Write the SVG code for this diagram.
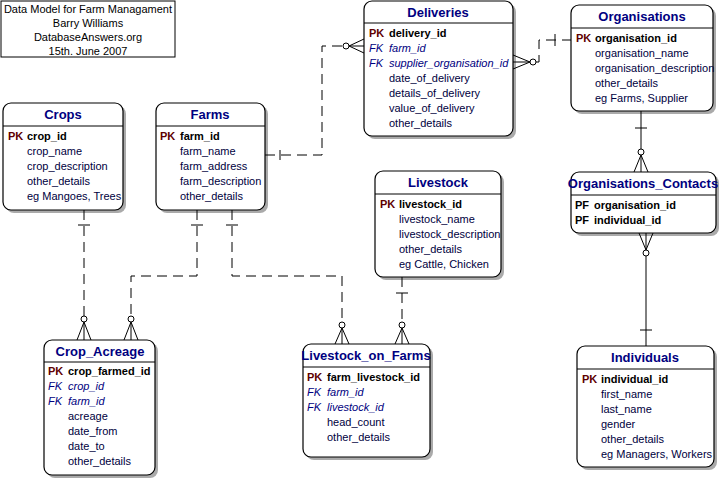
<svg xmlns="http://www.w3.org/2000/svg" width="722" height="482" viewBox="0 0 722 482">
<style>
text{font-family:"Liberation Sans",Arial,sans-serif;font-size:11px;fill:#000040}
.t{font-size:13px;font-weight:bold;fill:#000080;text-anchor:middle}
.k{fill:#600000;font-weight:bold}
.kb{font-weight:bold;fill:#000000}
.fk{fill:#000080;font-style:italic}
.box{fill:#fff;stroke:#000;stroke-width:1.2}
.sh{fill:#aaa}
.c{fill:none;stroke:#000;stroke-width:1}
.d{stroke-dasharray:10,6}
.ti{font-size:11px;fill:#000;text-anchor:middle}
</style>
<rect width="722" height="482" fill="#fff"/>
<g id="title"><rect x="1" y="1" width="174" height="56" fill="#fff" stroke="#000"/>
<text class="ti" x="88" y="13">Data Model for Farm Managament</text><text class="ti" x="88" y="27">Barry Williams</text><text class="ti" x="88" y="41">DatabaseAnswers.org</text><text class="ti" x="88" y="55">15th. June 2007</text></g>

<g id="crops"><rect class="sh" x="6" y="106" width="120" height="107" rx="8"/><rect class="box" x="3" y="103" width="120" height="107" rx="8"/><line class="c" x1="3" y1="126" x2="123" y2="126"/>
<text class="t" x="63" y="119">Crops</text><text class="k" x="8" y="140">PK</text><text class="kb" x="27" y="140">crop_id</text>
<text x="27" y="155">crop_name</text><text x="27" y="170">crop_description</text><text x="27" y="185">other_details</text><text x="27" y="200">eg Mangoes, Trees</text></g>

<g id="farms"><rect class="sh" x="159" y="106" width="109" height="107" rx="8"/><rect class="box" x="156" y="103" width="109" height="107" rx="8"/><line class="c" x1="156" y1="126" x2="265" y2="126"/>
<text class="t" x="210" y="119">Farms</text><text class="k" x="160" y="140">PK</text><text class="kb" x="180" y="140">farm_id</text>
<text x="180" y="155">farm_name</text><text x="180" y="170">farm_address</text><text x="180" y="185">farm_description</text><text x="180" y="200">other_details</text></g>

<g id="deliveries"><rect class="sh" x="367" y="4" width="149" height="135" rx="8"/><rect class="box" x="364" y="1" width="149" height="135" rx="8"/><line class="c" x1="364" y1="23" x2="513" y2="23"/>
<text class="t" x="438" y="17">Deliveries</text><text class="k" x="369" y="37">PK</text><text class="kb" x="389" y="37">delivery_id</text>
<text class="fk" x="369" y="52">FK</text><text class="fk" x="389" y="52">farm_id</text>
<text class="fk" x="369" y="67">FK</text><text class="fk" x="389" y="67">supplier_organisation_id</text>
<text x="389" y="82">date_of_delivery</text><text x="389" y="97">details_of_delivery</text><text x="389" y="112">value_of_delivery</text><text x="389" y="127">other_details</text></g>

<g id="organisations"><rect class="sh" x="574" y="8" width="142" height="106" rx="8"/><rect class="box" x="571" y="5" width="142" height="106" rx="8"/><line class="c" x1="571" y1="28" x2="713" y2="28"/>
<text class="t" x="642" y="21">Organisations</text><text class="k" x="576" y="42">PK</text><text class="kb" x="595" y="42">organisation_id</text>
<text x="595" y="57">organisation_name</text><text x="595" y="72">organisation_description</text><text x="595" y="87">other_details</text><text x="595" y="102">eg Farms, Supplier</text></g>

<g id="org_contacts"><rect class="sh" x="574" y="175" width="145" height="61" rx="8"/><rect class="box" x="571" y="172" width="145" height="61" rx="8"/><line class="c" x1="571" y1="195" x2="716" y2="195"/>
<text class="t" x="643" y="188">Organisations_Contacts</text><text class="kb" x="575" y="209">PF</text><text class="kb" x="594" y="209">organisation_id</text>
<text class="kb" x="575" y="224">PF</text><text class="kb" x="594" y="224">individual_id</text></g>

<g id="individuals"><rect class="sh" x="580" y="349" width="137" height="121" rx="8"/><rect class="box" x="577" y="346" width="137" height="121" rx="8"/><line class="c" x1="577" y1="369" x2="714" y2="369"/>
<text class="t" x="645" y="362">Individuals</text><text class="k" x="582" y="383">PK</text><text class="kb" x="601" y="383">individual_id</text>
<text x="601" y="398">first_name</text><text x="601" y="413">last_name</text><text x="601" y="428">gender</text><text x="601" y="443">other_details</text><text x="601" y="458">eg Managers, Workers</text></g>

<g id="livestock"><rect class="sh" x="378" y="174" width="126" height="106" rx="8"/><rect class="box" x="375" y="171" width="126" height="106" rx="8"/><line class="c" x1="375" y1="194" x2="501" y2="194"/>
<text class="t" x="438" y="187">Livestock</text><text class="k" x="380" y="208">PK</text><text class="kb" x="399" y="208">livestock_id</text>
<text x="399" y="223">livestock_name</text><text x="399" y="238">livestock_description</text><text x="399" y="253">other_details</text><text x="399" y="268">eg Cattle, Chicken</text></g>

<g id="crop_acreage"><rect class="sh" x="47" y="343" width="111" height="135" rx="8"/><rect class="box" x="44" y="340" width="111" height="135" rx="8"/><line class="c" x1="44" y1="362" x2="155" y2="362"/>
<text class="t" x="100" y="356">Crop_Acreage</text><text class="k" x="48" y="375">PK</text><text class="kb" x="68" y="375">crop_farmed_id</text>
<text class="fk" x="48" y="390">FK</text><text class="fk" x="68" y="390">crop_id</text>
<text class="fk" x="48" y="405">FK</text><text class="fk" x="68" y="405">farm_id</text>
<text x="68" y="420">acreage</text><text x="68" y="435">date_from</text><text x="68" y="450">date_to</text><text x="68" y="465">other_details</text></g>

<g id="livestock_on_farms"><rect class="sh" x="306" y="347" width="127" height="113" rx="8"/><rect class="box" x="303" y="344" width="127" height="113" rx="8"/><line class="c" x1="303" y1="367" x2="430" y2="367"/>
<text class="t" x="366" y="360">Livestock_on_Farms</text><text class="k" x="307" y="381">PK</text><text class="kb" x="327" y="381">farm_livestock_id</text>
<text class="fk" x="307" y="396">FK</text><text class="fk" x="327" y="396">farm_id</text>
<text class="fk" x="307" y="411">FK</text><text class="fk" x="327" y="411">livestock_id</text>
<text x="327" y="426">head_count</text><text x="327" y="441">other_details</text></g>

<g id="connectors" fill="#fff" stroke="#000">
<!-- Farms -> Deliveries -->
<polyline class="c d" points="265,155 322,155 322,46 343,46"/>
<line x1="280" y1="150" x2="280" y2="160"/>
<circle cx="346" cy="46" r="3"/><polyline class="c" points="364,39 349,46 364,53"/><line x1="349" y1="46" x2="364" y2="46"/>
<!-- Deliveries -> Organisations -->
<polyline class="c d" points="536,62 539,62 539,40 571,40"/>
<line x1="555" y1="34" x2="555" y2="46"/>
<circle cx="533" cy="62" r="3"/><polyline class="c" points="513,55 530,62 513,69"/><line x1="513" y1="62" x2="530" y2="62"/>
<!-- Organisations -> Org_Contacts -->
<line class="c" x1="641" y1="111" x2="641" y2="149"/><line x1="635" y1="128" x2="647" y2="128"/>
<circle cx="641" cy="152" r="3"/><polyline class="c" points="634,172 641,155 648,172"/><line x1="641" y1="155" x2="641" y2="172"/>
<!-- Org_Contacts -> Individuals -->
<line class="c" x1="646" y1="256" x2="646" y2="346"/><line x1="640" y1="330" x2="652" y2="330"/>
<circle cx="646" cy="253" r="3"/><polyline class="c" points="639,233 646,250 653,233"/><line x1="646" y1="233" x2="646" y2="250"/>
<!-- Crops -> Crop_Acreage -->
<line class="c d" x1="84" y1="210" x2="84" y2="316"/><line x1="78" y1="225" x2="90" y2="225"/>
<circle cx="84" cy="319" r="3"/><polyline class="c" points="77,340 84,322 91,340"/><line x1="84" y1="322" x2="84" y2="340"/>
<!-- Farms -> Crop_Acreage -->
<polyline class="c d" points="197,210 197,276 131,276 131,316"/><line x1="191" y1="225" x2="203" y2="225"/>
<circle cx="131" cy="319" r="3"/><polyline class="c" points="124,340 131,322 138,340"/><line x1="131" y1="322" x2="131" y2="340"/>
<!-- Farms -> Livestock_on_Farms -->
<polyline class="c d" points="232,210 232,276 342,276 342,322"/><line x1="226" y1="225" x2="238" y2="225"/>
<circle cx="342" cy="325" r="3"/><polyline class="c" points="335,344 342,328 349,344"/><line x1="342" y1="328" x2="342" y2="344"/>
<!-- Livestock -> Livestock_on_Farms -->
<line class="c d" x1="402" y1="277" x2="402" y2="322"/><line x1="396" y1="293" x2="408" y2="293"/>
<circle cx="402" cy="325" r="3"/><polyline class="c" points="395,344 402,328 409,344"/><line x1="402" y1="328" x2="402" y2="344"/>
</g>
</svg>
